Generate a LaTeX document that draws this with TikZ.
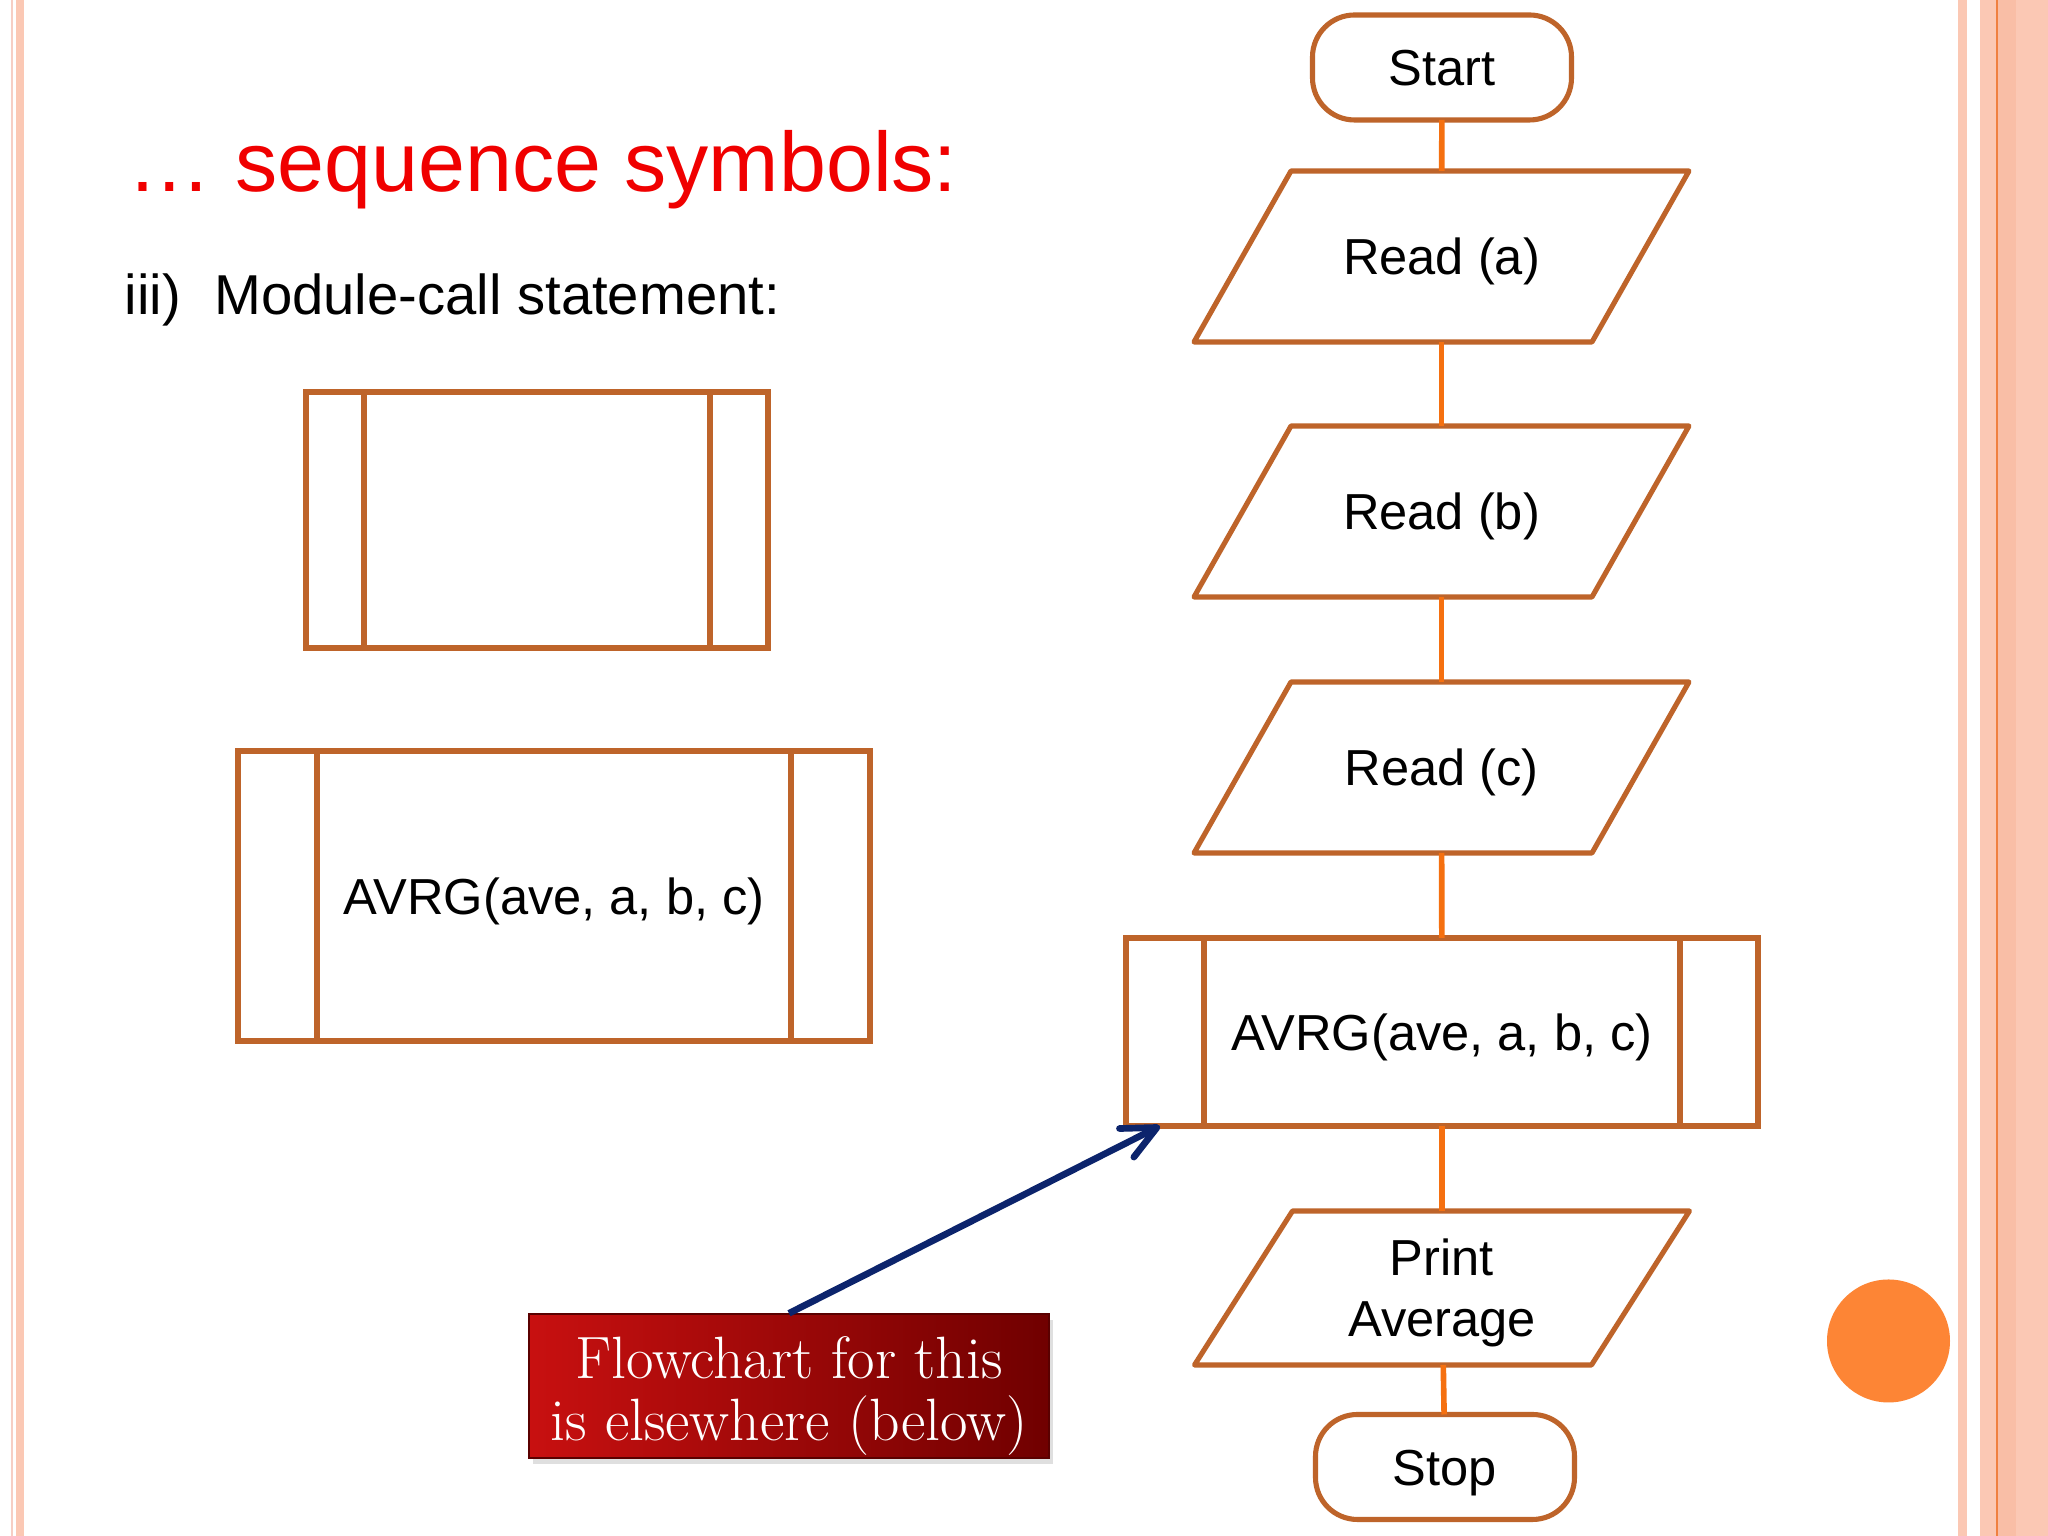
\documentclass[tikz,border=0pt]{standalone}
\usepackage{fontspec}
\newfontfamily\arialfont{Liberation Sans}
\usetikzlibrary{arrows.meta,shadows}
\definecolor{boxline}{RGB}{190,100,42}
\definecolor{flowline}{RGB}{245,112,16}
\definecolor{titlered}{RGB}{240,0,0}
\definecolor{pointerblue}{RGB}{12,36,108}
\definecolor{stripe}{RGB}{251,200,180}
\definecolor{stripepale}{RGB}{246,206,196}
\definecolor{stripedark}{RGB}{249,190,166}
\definecolor{stripeline}{RGB}{240,128,64}
\definecolor{dotorange}{RGB}{253,133,53}
\definecolor{noteleft}{RGB}{200,16,16}
\definecolor{noteright}{RGB}{112,0,0}
\newcommand\flowfont{\arialfont\fontsize{14.4}{17.4}\selectfont}
\begin{document}
\begin{tikzpicture}[
  terminal/.style={rectangle, rounded corners=0.42cm, draw=boxline, line width=1.45pt, minimum width=2.59cm, minimum height=1.05cm, inner sep=0pt, outer sep=0pt, text height=10.3pt, text depth=0pt, font=\flowfont},
  io/.style={rectangle, minimum width=4.95cm, minimum height=1.71cm, inner sep=0pt, outer sep=0pt, align=center, text height=10.3pt, text depth=0pt, font=\flowfont},
  module/.style={rectangle, draw=boxline, line width=1.45pt, inner sep=0pt, outer sep=0pt, text height=10.3pt, text depth=0pt, font=\flowfont},
  flow/.style={flowline, line width=1.6pt},
]
\fill[white] (0,0) rectangle (20.48,15.36);
\useasboundingbox (0,0) rectangle (20.48,15.36);
\fill[stripepale] (0.11,0) rectangle (0.135,15.36);
\fill[stripe] (0.16,0) rectangle (0.24,15.36);
\fill[stripe] (19.58,0) rectangle (19.67,15.36);
\fill[stripe] (19.80,0) rectangle (20.48,15.36);
\fill[stripedark] (19.98,0) rectangle (20.16,15.36);
\fill[stripeline] (19.957,0) rectangle (19.983,15.36);
\fill[dotorange] (18.885,1.95) circle (0.615);
\node[anchor=base west, inner sep=0pt, text=titlered, font=\arialfont\fontsize{24}{28}\selectfont] (title) at (1.27,13.44) {… sequence symbols:};
\node[anchor=base west, inner sep=0pt, font=\arialfont\fontsize{16}{19}\selectfont] (subtitle) at (1.24,12.21) {iii)\hspace{9.5pt}Module-call statement:};
\node[module, minimum width=4.62cm, minimum height=2.56cm] (symbare) at (5.37,10.16) {};
\node[module, minimum width=6.32cm, minimum height=2.90cm] (symcall) at (5.54,6.40) {AVRG(ave, a, b, c)};
\node[terminal] (start) at (14.42,14.685) {Start};
\node[io] (reada) at (14.415,12.795) {Read (a)};
\node[io] (readb) at (14.415,10.245) {Read (b)};
\node[io] (readc) at (14.415,7.685) {Read (c)};
\node[module, minimum width=6.32cm, minimum height=1.88cm] (avrg) at (14.42,5.04) {AVRG(ave, a, b, c)};
\node[io, minimum height=1.54cm, text height=27.7pt] (print) at (14.42,2.48) {Print\\Average};
\node[terminal] (stop) at (14.45,0.69) {Stop};
\foreach \n/\s in {reada/0.97, readb/0.97, readc/0.97, print/0.98}
  \draw[boxline, line width=1.45pt, line join=round] ([xshift=\s cm]\n.north west) -- (\n.north east) -- ([xshift=-\s cm]\n.south east) -- (\n.south west) -- cycle;
\foreach \n/\w in {symbare/0.58, symcall/0.79, avrg/0.78}{
  \draw[boxline, line width=1.45pt] ([xshift=\w cm]\n.north west) -- ([xshift=\w cm]\n.south west);
  \draw[boxline, line width=1.45pt] ([xshift=-\w cm]\n.north east) -- ([xshift=-\w cm]\n.south east);
}
\draw[flow] (start) -- (reada);
\draw[flow] (reada) -- (readb);
\draw[flow] (readb) -- (readc);
\draw[flow] (readc) -- (avrg);
\draw[flow] (avrg) -- (print);
\draw[flow] (print) -- (stop);
\node[rectangle, left color=noteleft, right color=noteright, draw=noteright!80!black, line width=0.4pt, minimum width=5.20cm, minimum height=1.44cm, inner sep=0pt, align=center, text=white, text height=30.8pt, text depth=0pt, font={\fontsize{17}{17.4}\selectfont\addfontfeatures{FakeBold=0.4}}, drop shadow={opacity=0.25, shadow xshift=0.04cm, shadow yshift=-0.06cm}] (note) at (7.89,1.50) {Flowchart for this\\is elsewhere (below)};
\coordinate (tip) at ([xshift=0.34cm]avrg.south west);
\draw[pointerblue, line width=1.9pt, -{Straight Barb[length=3.4mm, width=3.2mm, round]}] (note.north) -- (tip);
\end{tikzpicture}
\end{document}
